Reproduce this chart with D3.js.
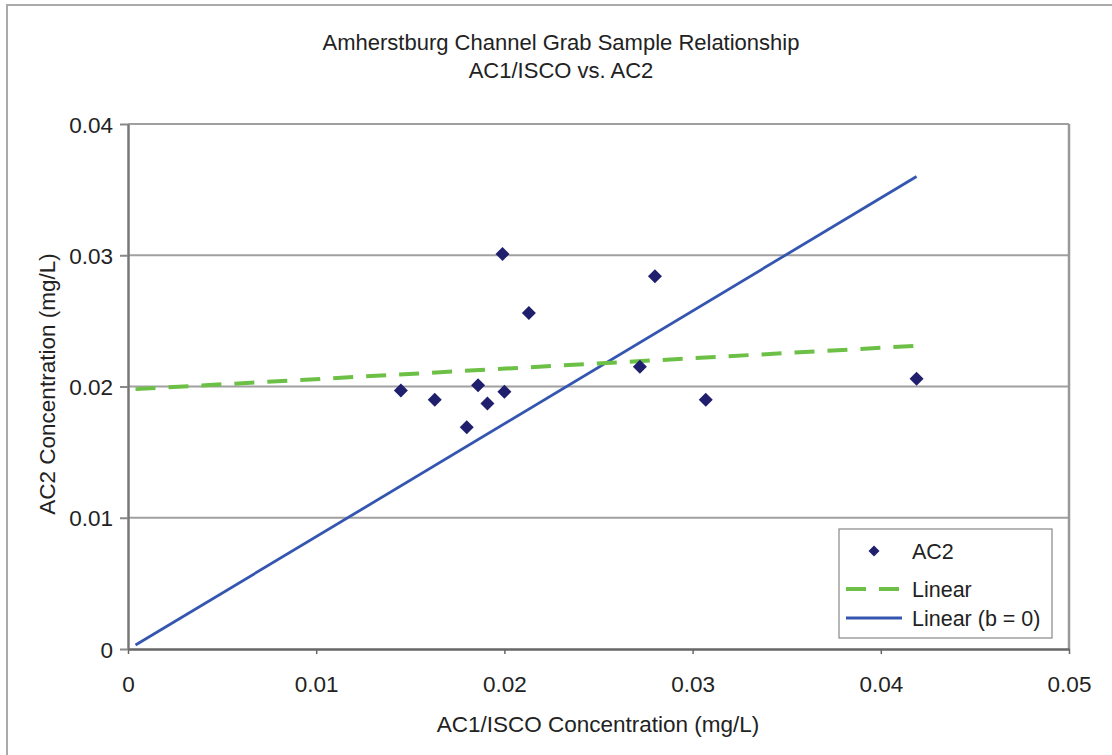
<!DOCTYPE html>
<meta charset="utf-8">
<style>
  body { margin: 0; background: #fff; }
  svg { display: block; font-family: "Liberation Sans", Arial, sans-serif; }
  .tick text { fill: #222; font-size: 22.5px; }
</style>
<body>
<svg width="1112" height="755"></svg>
<script src="https://cdn.jsdelivr.net/npm/d3@7"></script>
<script>
  // AC1/ISCO (x) vs AC2 (y), mg/L
  var acIsco = [0.0145, 0.0163, 0.0180, 0.0186, 0.0191, 0.0200, 0.0199, 0.0213, 0.0272, 0.0280, 0.0307, 0.0419];
  var ac2    = [0.0197, 0.0190, 0.0169, 0.0201, 0.0187, 0.0196, 0.0301, 0.0256, 0.0215, 0.0284, 0.0190, 0.0206];

  // trendline end points
  var trendX  = [0.0004, 0.0419];
  var linearY = [0.0198, 0.0231];
  var zeroY   = [0.0003, 0.0360];

  var xTicks = [0, 0.01, 0.02, 0.03, 0.04, 0.05];
  var yTicks = [0, 0.01, 0.02, 0.03, 0.04];

  var svg = d3.select("svg");
  var pLeft = 128, pRight = 1069, pTop = 124, pBottom = 649;

  var x = d3.scaleLinear().domain([0, 0.05]).range([pLeft, pRight]);
  var y = d3.scaleLinear().domain([0, 0.04]).range([pBottom, pTop]);
  var fmt = function(d) { return d === 0 ? "0" : d3.format(".2f")(d); };

  // outer chart frame
  svg.append("rect")
    .attr("x", 7).attr("y", 5).attr("width", 1130).attr("height", 780)
    .attr("fill", "none").attr("stroke", "#aaa").attr("stroke-width", 2);

  // title
  var title = svg.append("text")
    .attr("text-anchor", "middle")
    .attr("fill", "#222")
    .style("font-size", "22px");
  title.append("tspan").attr("x", 561).attr("y", 50).text("Amherstburg Channel Grab Sample Relationship");
  title.append("tspan").attr("x", 561).attr("y", 78).text("AC1/ISCO vs. AC2");

  // gridlines
  svg.append("g").selectAll("line")
    .data(yTicks.filter(function(d) { return d > 0; }))
    .enter().append("line")
    .attr("x1", pLeft).attr("x2", pRight)
    .attr("y1", function(d) { return y(d); })
    .attr("y2", function(d) { return y(d); })
    .attr("stroke", "#a0a0a0").attr("stroke-width", 2);

  // right border
  svg.append("line")
    .attr("x1", pRight).attr("x2", pRight).attr("y1", pTop).attr("y2", pBottom)
    .attr("stroke", "#999").attr("stroke-width", 2.5);

  // axes
  var xAxis = svg.append("g")
    .attr("transform", "translate(0," + pBottom + ")")
    .call(d3.axisBottom(x).tickValues(xTicks).tickFormat(fmt).tickSizeInner(5).tickSizeOuter(0).tickPadding(22));
  xAxis.select(".domain").attr("stroke", "#666").attr("stroke-width", 2.5);
  xAxis.selectAll(".tick line").attr("stroke", "#666").attr("stroke-width", 1.5);

  var yAxis = svg.append("g")
    .attr("transform", "translate(" + pLeft + ",0)")
    .call(d3.axisLeft(y).tickValues(yTicks).tickFormat(fmt).tickSizeInner(8).tickSizeOuter(0).tickPadding(7));
  yAxis.select(".domain").attr("stroke", "#777").attr("stroke-width", 2.5);
  yAxis.selectAll(".tick line").attr("stroke", "#888").attr("stroke-width", 2);
  yAxis.selectAll(".tick text").attr("dy", "0.36em");

  // axis titles
  svg.append("text")
    .attr("x", 598).attr("y", 732)
    .attr("text-anchor", "middle").attr("fill", "#222")
    .style("font-size", "22.5px")
    .text("AC1/ISCO Concentration (mg/L)");

  svg.append("text")
    .attr("transform", "translate(55,384) rotate(-90)")
    .attr("text-anchor", "middle").attr("fill", "#222")
    .style("font-size", "22.5px")
    .text("AC2 Concentration (mg/L)");

  // trendlines
  var line = d3.line()
    .x(function(d) { return x(d[0]); })
    .y(function(d) { return y(d[1]); });

  svg.append("path")
    .datum(d3.zip(trendX, zeroY))
    .attr("d", line)
    .attr("fill", "none").attr("stroke", "#3556b0").attr("stroke-width", 2.8);

  svg.append("path")
    .datum(d3.zip(trendX, linearY))
    .attr("d", line)
    .attr("fill", "none").attr("stroke", "#6cc046").attr("stroke-width", 4)
    .attr("stroke-dasharray", "20,13");

  // diamonds
  function diamond(r) {
    return "M0," + (-r) + "L" + r + ",0L0," + r + "L" + (-r) + ",0Z";
  }

  svg.append("g").selectAll("path")
    .data(d3.zip(acIsco, ac2))
    .enter().append("path")
    .attr("d", diamond(7))
    .attr("transform", function(d) { return "translate(" + x(d[0]) + "," + y(d[1]) + ")"; })
    .attr("fill", "#1f1f6e");

  // legend
  var legend = svg.append("g");
  legend.append("rect")
    .attr("x", 839).attr("y", 529).attr("width", 213).attr("height", 109)
    .attr("fill", "#fff").attr("stroke", "#888").attr("stroke-width", 1.2);

  legend.append("path")
    .attr("d", diamond(5.5))
    .attr("transform", "translate(874,551)")
    .attr("fill", "#1f1f6e");
  legend.append("line")
    .attr("x1", 846).attr("x2", 902).attr("y1", 589).attr("y2", 589)
    .attr("stroke", "#6cc046").attr("stroke-width", 4).attr("stroke-dasharray", "20,13");
  legend.append("line")
    .attr("x1", 846).attr("x2", 902).attr("y1", 618).attr("y2", 618)
    .attr("stroke", "#3556b0").attr("stroke-width", 2.8);

  var labels = ["AC2", "Linear", "Linear (b = 0)"];
  var labelY = [551, 589, 618];
  legend.selectAll("text.lab")
    .data(labels)
    .enter().append("text")
    .attr("class", "lab")
    .attr("x", 912)
    .attr("y", function(d, i) { return labelY[i]; })
    .attr("dy", "0.36em")
    .attr("fill", "#222")
    .style("font-size", "21.5px")
    .text(function(d) { return d; });
</script>
</body>
